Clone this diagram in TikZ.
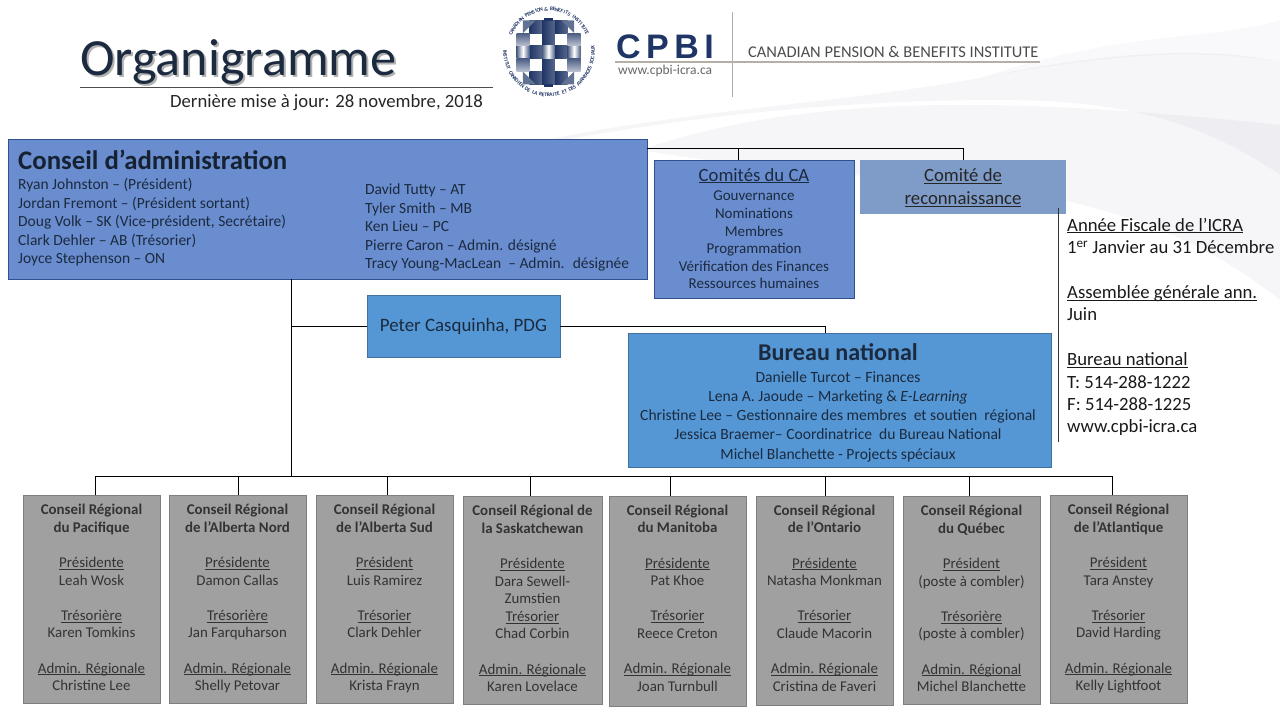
\documentclass[tikz,border=0pt]{standalone}
\usepackage{xcolor}
\usepackage{fontspec}
\setmainfont{Carlito}
\newfontfamily\cpbifont[LetterSpace=16]{Liberation Sans}

\definecolor{conseilblue}{HTML}{6A8DCF}
\definecolor{conseilline}{HTML}{2F528F}
\definecolor{bureaublue}{HTML}{5597D4}
\definecolor{bureauline}{HTML}{41719C}
\definecolor{reconblue}{HTML}{7F9BC8}
\definecolor{reggray}{HTML}{A0A0A0}
\definecolor{regline}{HTML}{7F7F7F}
\definecolor{inktext}{HTML}{1B2A3F}
\definecolor{navy}{HTML}{1F3565}
\definecolor{logogray}{HTML}{B4B0A8}

\newcommand{\souligne}[1]{\vphantom{Ag}\underline{\smash{#1}}}
\newcommand{\logotext}{\fontsize{5.4}{6}\selectfont\bfseries}

\tikzset{
    plainbox/.style={draw, rectangle, anchor=north west, outer sep=0pt, inner sep=0pt, align=center, text=inktext},
    conseilbox/.style={plainbox, fill=conseilblue, draw=conseilline},
    bureaubox/.style={plainbox, fill=bureaublue, draw=bureauline},
    regbox/.style={plainbox, fill=reggray, draw=regline, line width=0.8pt, minimum width=137pt, minimum height=208pt, text depth=3pt,
        font=\fontsize{14.9}{17.6}\selectfont, text=black!80},
    listtext/.style={anchor=north west, inner sep=0pt, align=left, text=inktext, font=\fontsize{15.5}{18.6}\selectfont},
    logoletter/.style={inner sep=0pt, text=navy, font=\logotext},
    lien/.style={draw=black, line width=0.8pt},
    swoosh/.style={draw=none, fill=blue!15!gray!40, fill opacity=0.16}
}

\begin{document}
\begin{tikzpicture}[x=1pt, y=-1pt]
    \useasboundingbox (0,0) rectangle (1280,720);

    % background swooshes
    \fill[swoosh] (440,165) .. controls (640,110) and (800,110) .. (980,78) .. controls (1120,48) and (1220,48) .. (1280,62) -- (1280,175) .. controls (1200,120) and (1120,100) .. (1000,100) .. controls (800,100) and (620,125) .. (440,165) -- cycle;
    \fill[swoosh] (640,150) .. controls (800,95) and (1000,95) .. (1280,125) -- (1280,300) .. controls (1180,220) and (1060,185) .. (850,175) .. controls (780,170) and (700,160) .. (640,150) -- cycle;
    \fill[swoosh, fill opacity=0.1] (980,78) .. controls (1120,30) and (1220,40) .. (1280,20) -- (1280,62) .. controls (1180,45) and (1080,60) .. (980,78) -- cycle;

    % header
    \node[anchor=west, inner sep=0pt, text=gray!60, font=\fontsize{52.2}{53}\selectfont] (titleshadow) at (82,64) {Organigramme};
    \node[anchor=west, inner sep=0pt, text=inktext, font=\fontsize{52.2}{53}\selectfont] (title) at (80,62) {Organigramme};
    \coordinate (ruleleft) at (80,87);
    \coordinate (ruleright) at (493,87);
    \draw[black!70] (ruleleft) -- (ruleright);
    \node[anchor=east, inner sep=0pt, text=black!85, font=\fontsize{18.7}{20}\selectfont] (update) at (483,103) {Dernière mise à jour: 28 novembre, 2018};

    % logo
    \begin{scope}[shift={(549,51)}]
        \foreach \ch [count=\n] in {C,A,N,A,D,I,A,N,{ },P,E,N,S,I,O,N,{ },\&,{ },B,E,N,E,F,I,T,S,{ },I,N,S,T,I,T,U,T,E}
            \node[logoletter, rotate={155-3.6*(\n-1)-90}] at ({155-3.6*(\n-1)}:42pt) {\ch};
        \foreach \ch [count=\n] in {I,N,S,T,I,T,U,T,{ },C,A,N,A,D,I,E,N,{ },D,E,{ },L,A,{ },R,E,T,R,A,I,T,E,{ },E,T,{ },D,E,S,{ },A,V,A,N,T,A,G,E,S,{ },S,O,C,I,A,U,X}
            \node[logoletter, rotate={180+3.3*(\n-1)+90}] at ({180+3.3*(\n-1)}:44pt) {\ch};
    \end{scope}
    \foreach \col/\row in {-1/-2,0/-2,1/-2,0/-1,-1/0,1/0,0/1,-1/2,0/2,1/2}
        \shade[left color=navy, right color=navy!75] ({548.5+12.8*\col-6.4},{52.3+12.8*\row-6.4}) rectangle ++(12.8,12.8);
    \foreach \col in {-2,0,2}
        \shade[left color=navy!80, right color=navy!80, middle color=white] ({548.5+12.8*\col-6.4},{52.3-6.4}) rectangle ++(12.8,12.8);
    \foreach \col in {-2,2}
        \foreach \row in {-1,1}
            \shade[top color=navy!80, bottom color=navy!30] ({548.5+12.8*\col-6.4},{52.3+12.8*\row-6.4}) rectangle ++(12.8,12.8);
    \fill[navy] (544,18) rectangle (553,21);
    \fill[navy] (544,83.5) rectangle (553,87);
    \fill[navy!70] (535.7,20.3) -- (522.9,20.3) -- (522.9,33.1) -- cycle;
    \fill[navy!70] (561.3,20.3) -- (574.1,20.3) -- (574.1,33.1) -- cycle;
    \fill[navy!70] (535.7,84.3) -- (522.9,84.3) -- (522.9,71.5) -- cycle;
    \fill[navy!70] (561.3,84.3) -- (574.1,84.3) -- (574.1,71.5) -- cycle;

    \node[anchor=base west, inner sep=0pt, text=navy, font=\cpbifont\bfseries\fontsize{34}{34}\selectfont] (cpbi) at (616,58) {CPBI};
    \node[anchor=west, inner sep=0pt, text=black!60, font=\fontsize{13.5}{14}\selectfont] (url) at (618,71) {www.cpbi-icra.ca};
    \node[anchor=west, inner sep=0pt, text=black!70, font=\fontsize{16.4}{18}\selectfont] (institute) at (748,52) {CANADIAN PENSION \& BENEFITS INSTITUTE};
    \coordinate (logoleft) at (615,62);
    \coordinate (logoright) at (1040,62);
    \coordinate (logotop) at (732,12);
    \coordinate (logobottom) at (732,97);
    \draw[logogray, line width=1.4pt] (logoleft) -- (logoright);
    \draw[logogray, line width=1pt] (logotop) -- (logobottom);

    % board
    \node[conseilbox, minimum width=639pt, minimum height=140pt] (conseil) at (8,139) {};
    \node[anchor=west, inner sep=0pt, text=inktext!80!black, font=\bfseries\fontsize{26.8}{28}\selectfont] (conseiltitle) at (18,160) {Conseil d’administration};
    \node[listtext] (conseilleft) at (18,178) {Ryan Johnston – (Président)\\Jordan Fremont – (Président sortant)\\Doug Volk – SK (Vice-président, Secrétaire)\\Clark Dehler – AB (Trésorier)\\Joyce Stephenson – ON};
    \node[listtext] (conseilright) at (365,183.5) {David Tutty – AT\\Tyler Smith – MB\\Ken Lieu – PC\\Pierre Caron – Admin. désigné\\Tracy Young-MacLean \ – Admin. \ désignée};

    \node[conseilbox, minimum width=200pt, minimum height=138pt] (comites) at (654,160) {};
    \node[anchor=north, inner sep=0pt, align=center, text=inktext, font=\fontsize{18.7}{18.7}\selectfont] (comitestitle) at (754,169) {\souligne{Comités du CA}};
    \node[anchor=north, inner sep=0pt, align=center, text=inktext, font=\fontsize{15}{17.6}\selectfont] (comiteslist) at (754,191) {Gouvernance\\Nominations\\Membres\\Programmation\\Vérification des Finances\\Ressources humaines};

    \node[plainbox, draw=none, fill=reconblue, minimum width=206pt, minimum height=54pt] (recon) at (860,160) {};
    \node[inner sep=0pt, align=center, text=black!85, font=\fontsize{18.7}{23}\selectfont] (recontext) at (963,189) {\souligne{Comité de}\\\souligne{reconnaissance}};

    \node[bureaubox, minimum width=193pt, minimum height=62pt, font=\fontsize{18.9}{20}\selectfont] (pdg) at (367,295) {Peter Casquinha, PDG};
    \node[bureaubox, minimum width=423pt, minimum height=134pt] (bureau) at (628,333) {};
    \node[anchor=center, inner sep=0pt, text=inktext, font=\bfseries\fontsize{24.1}{26}\selectfont] (bureautitle) at (838,352) {Bureau national};
    \node[anchor=north, inner sep=0pt, align=center, text=inktext, font=\fontsize{15.6}{19.3}\selectfont] (bureaulist) at (838,371) {Danielle Turcot – Finances\\Lena A. Jaoude – Marketing \& \textit{E-Learning}\\Christine Lee – Gestionnaire des membres \ et soutien \ régional\\Jessica Braemer– Coordinatrice \ du Bureau National\\Michel Blanchette - Projects spéciaux};

    % side notes
    \coordinate (sidetop) at (1058,208);
    \coordinate (sidebottom) at (1058,442);
    \draw[black!80] (sidetop) -- (sidebottom);
    \node[anchor=north west, inner sep=0pt, align=left, text=black!90, font=\fontsize{18.7}{22.4}\selectfont] (sidenotes) at (1067,219) {\souligne{Année Fiscale de l’ICRA}\\1\textsuperscript{er} Janvier au 31 Décembre\\[22.4pt]\souligne{Assemblée générale ann.}\\Juin\\[22.4pt]\souligne{Bureau national}\\T: 514-288-1222\\F: 514-288-1225\\www.cpbi-icra.ca};

    % regional councils
    \node[regbox] (pacifique) at (23,495) {\textbf{Conseil Régional}\\\textbf{du Pacifique}\\[17.6pt]\souligne{Présidente}\\Leah Wosk\\[17.6pt]\souligne{Trésorière}\\Karen Tomkins\\[17.6pt]\souligne{Admin. Régionale}\\Christine Lee};
    \node[regbox] (albertanord) at (169,495) {\textbf{Conseil Régional}\\\textbf{de l’Alberta Nord}\\[17.6pt]\souligne{Présidente}\\Damon Callas\\[17.6pt]\souligne{Trésorière}\\Jan Farquharson\\[17.6pt]\souligne{Admin. Régionale}\\Shelly Petovar};
    \node[regbox] (albertasud) at (316,495) {\textbf{Conseil Régional}\\\textbf{de l’Alberta Sud}\\[17.6pt]\souligne{Président}\\Luis Ramirez\\[17.6pt]\souligne{Trésorier}\\Clark Dehler\\[17.6pt]\souligne{Admin. Régionale}\\Krista Frayn};
    \node[regbox, minimum width=139pt] (saskatchewan) at (463,496) {\textbf{Conseil Régional de}\\\textbf{la Saskatchewan}\\[17.6pt]\souligne{Présidente}\\Dara Sewell-\\Zumstien\\\souligne{Trésorier}\\Chad Corbin\\[17.6pt]\souligne{Admin. Régionale}\\Karen Lovelace};
    \node[regbox, minimum height=210pt, text depth=6pt] (manitoba) at (609,496) {\textbf{Conseil Régional}\\\textbf{du Manitoba}\\[17.6pt]\souligne{Présidente}\\Pat Khoe\\[17.6pt]\souligne{Trésorier}\\Reece Creton\\[17.6pt]\souligne{Admin. Régionale}\\Joan Turnbull};
    \node[regbox, minimum height=209pt, text depth=5pt] (ontario) at (756,496) {\textbf{Conseil Régional}\\\textbf{de l’Ontario}\\[17.6pt]\souligne{Présidente}\\Natasha Monkman\\[17.6pt]\souligne{Trésorier}\\Claude Macorin\\[17.6pt]\souligne{Admin. Régionale}\\Cristina de Faveri};
    \node[regbox] (quebec) at (903,496) {\textbf{Conseil Régional}\\\textbf{du Québec}\\[17.6pt]\souligne{Président}\\(poste à combler)\\[17.6pt]\souligne{Trésorière}\\(poste à combler)\\[17.6pt]\souligne{Admin. Régional}\\Michel Blanchette};
    \node[regbox] (atlantique) at (1050,495) {\textbf{Conseil Régional}\\\textbf{de l’Atlantique}\\[17.6pt]\souligne{Président}\\Tara Anstey\\[17.6pt]\souligne{Trésorier}\\David Harding\\[17.6pt]\souligne{Admin. Régionale}\\Kelly Lightfoot};

    % connectors
    \coordinate (trunk) at (291,476);
    \coordinate (comitebus) at (647,148);
    \coordinate (comitedrop) at (738,148);
    \coordinate (recondrop) at (963,148);
    \coordinate (bureaudrop) at (825,326);
    \draw[lien] (conseil.south -| trunk) -- (trunk);
    \draw[lien] (trunk |- pdg.west) -- (pdg.west);
    \draw[lien] (pdg.east) -- (bureaudrop) -- (bureaudrop |- bureau.north);
    \draw[lien] (comitebus) -- (recondrop) -- (recondrop |- recon.north);
    \draw[lien] (comitedrop) -- (comitedrop |- comites.north);
    \foreach \reg/\dropx in {pacifique/95, albertanord/238, albertasud/387, saskatchewan/530, manitoba/670, ontario/825, quebec/969, atlantique/1112} {
        \coordinate (drop\reg) at (\dropx,476);
        \draw[lien] (drop\reg) -- (drop\reg |- \reg.north);
    }
    \draw[lien] (droppacifique) -- (dropatlantique);
\end{tikzpicture}
\end{document}
